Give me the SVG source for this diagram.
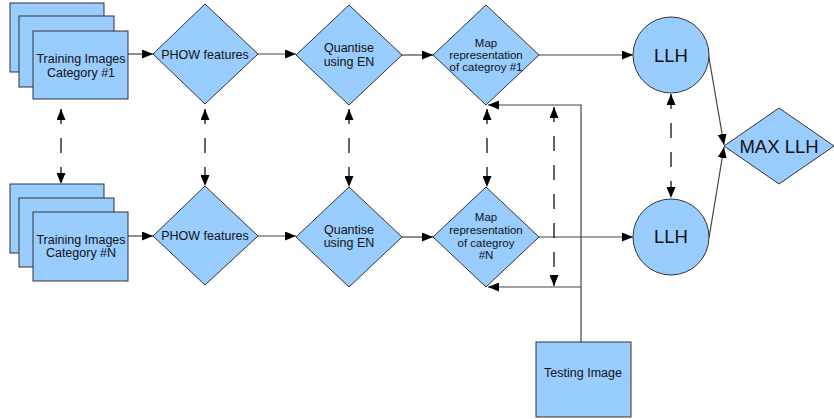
<svg xmlns="http://www.w3.org/2000/svg" width="834" height="419" viewBox="0 0 834 419">
<defs>
<marker id="ah" viewBox="0 0 11 9" refX="11" refY="4.5" markerWidth="11" markerHeight="9" markerUnits="userSpaceOnUse" orient="auto-start-reverse">
<path d="M0,0 L11,4.5 L0,9 Z" fill="#000"/>
</marker>
</defs>
<style>
.n{fill:#99ccff;stroke:#333;stroke-width:1}
.t{font-family:"Liberation Sans",Arial,sans-serif;font-size:12.5px;fill:#111;text-anchor:middle}
.s{font-size:11.5px}
.b{font-size:18.5px}
.c{fill:none;stroke:#444;stroke-width:1.2}
.d{fill:none;stroke:#111;stroke-width:1.3;stroke-dasharray:15,14}
</style>
<rect width="834" height="419" fill="#fff"/>
<g id="connectors">
<path class="c" d="M128,54 H153" marker-end="url(#ah)"/>
<path class="c" d="M258,54 H296" marker-end="url(#ah)"/>
<path class="c" d="M402,55 H433" marker-end="url(#ah)"/>
<path class="c" d="M539,55 H633" marker-end="url(#ah)"/>
<path class="c" d="M128,236 H153" marker-end="url(#ah)"/>
<path class="c" d="M258,236 H296" marker-end="url(#ah)"/>
<path class="c" d="M402,237 H433" marker-end="url(#ah)"/>
<path class="c" d="M539,237 H633" marker-end="url(#ah)"/>
<path class="c" d="M708,52 L724,145" marker-end="url(#ah)"/>
<path class="c" d="M709,238 L724,147" marker-end="url(#ah)"/>
<path class="c" d="M581,342 V105 H488" marker-end="url(#ah)"/>
<path class="c" d="M581,287 H488" marker-end="url(#ah)"/>
<path class="d" d="M61,109 V184" marker-start="url(#ah)" marker-end="url(#ah)"/>
<path class="d" d="M205,109 V186" marker-start="url(#ah)" marker-end="url(#ah)"/>
<path class="d" d="M349,109 V187" marker-start="url(#ah)" marker-end="url(#ah)"/>
<path class="d" d="M487,109 V187" marker-start="url(#ah)" marker-end="url(#ah)"/>
<path class="d" d="M554,107 V286" marker-start="url(#ah)" marker-end="url(#ah)"/>
<path class="d" d="M671,94 V198" marker-start="url(#ah)" marker-end="url(#ah)"/>
</g>
<g id="train1">
<rect class="n" x="10" y="3" width="94" height="69"/>
<rect class="n" x="19" y="16" width="95" height="71"/>
<rect class="n" x="33" y="31" width="95" height="68"/>
<text class="t" x="81" y="63">Training Images</text>
<text class="t" x="81" y="77">Category #1</text>
</g>
<g id="trainN">
<rect class="n" x="10" y="184" width="94" height="69"/>
<rect class="n" x="19" y="198" width="95" height="69"/>
<rect class="n" x="33" y="212" width="95" height="69"/>
<text class="t" x="81" y="244">Training Images</text>
<text class="t" x="81" y="257">Category #N</text>
</g>
<g id="phow1">
<path class="n" d="M205,4 L258,54 L205,104 L153,54 Z"/>
<text class="t" x="205" y="59">PHOW features</text>
</g>
<g id="phowN">
<path class="n" d="M205,186 L258,236 L205,285 L153,236 Z"/>
<text class="t" x="205" y="240">PHOW features</text>
</g>
<g id="quant1">
<path class="n" d="M349,5 L402,55 L349,105 L296,55 Z"/>
<text class="t" x="349" y="52">Quantise</text>
<text class="t" x="349" y="66">using EN</text>
</g>
<g id="quantN">
<path class="n" d="M349,187 L402,237 L349,287 L296,237 Z"/>
<text class="t" x="349" y="234">Quantise</text>
<text class="t" x="349" y="247">using EN</text>
</g>
<g id="map1">
<path class="n" d="M486,5 L539,55 L486,105 L433,55 Z"/>
<text class="t s" x="486" y="47">Map</text>
<text class="t s" x="486" y="59">representation</text>
<text class="t s" x="486" y="71">of categroy #1</text>
</g>
<g id="mapN">
<path class="n" d="M486,187 L539,237 L486,287 L433,237 Z"/>
<text class="t s" x="486" y="221">Map</text>
<text class="t s" x="486" y="234">representation</text>
<text class="t s" x="486" y="247">of categroy</text>
<text class="t s" x="486" y="259">#N</text>
</g>
<g id="llh1">
<circle class="n" cx="671" cy="55" r="38"/>
<text class="t b" x="671" y="62">LLH</text>
</g>
<g id="llhN">
<circle class="n" cx="671" cy="237" r="38"/>
<text class="t b" x="671" y="243">LLH</text>
</g>
<g id="maxllh">
<path class="n" d="M779,108 L834,146 L779,184 L724,146 Z"/>
<text class="t b" x="779" y="153">MAX LLH</text>
</g>
<g id="testing">
<rect class="n" x="536" y="342" width="95" height="75"/>
<text class="t" x="583" y="377">Testing Image</text>
</g>
</svg>
